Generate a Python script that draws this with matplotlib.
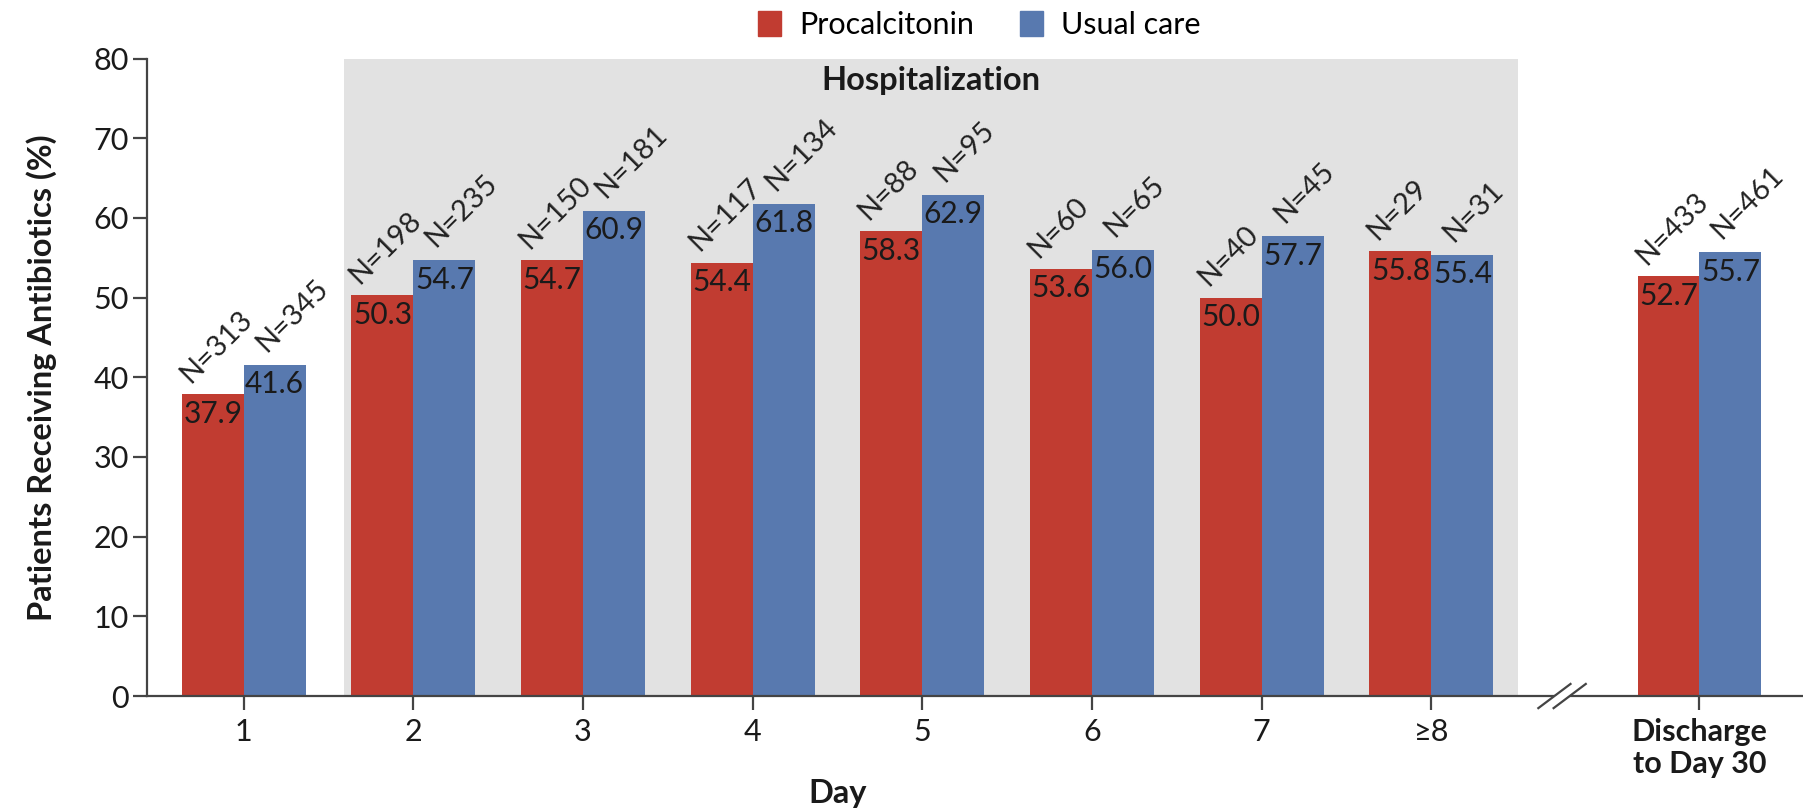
import numpy as np
import matplotlib
matplotlib.use("Agg")
import matplotlib.pyplot as plt
from matplotlib.patches import Patch
import matplotlib.transforms as mtransforms

plt.rcParams['font.family'] = ['Lato', 'DejaVu Sans']

categories = ['1', '2', '3', '4', '5', '6', '7', '≥8', 'Discharge\nto Day 30']
procalcitonin = [37.9, 50.3, 54.7, 54.4, 58.3, 53.6, 50.0, 55.8, 52.7]
usual_care = [41.6, 54.7, 60.9, 61.8, 62.9, 56.0, 57.7, 55.4, 55.7]
n_proc = [313, 198, 150, 117, 88, 60, 40, 29, 433]
n_usual = [345, 235, 181, 134, 95, 65, 45, 31, 461]

red = '#C13C31'
blue = '#5879AF'
dark = '#444444'
fs = 22
fs_bold = 23.5

x = np.append(np.arange(1, 9), 9.58)
w = 0.365

fig = plt.figure(figsize=(18.03, 8.10), dpi=100)
ax = fig.add_axes([0.0815, 0.1407, 0.9185, 0.787])

ax.axvspan(1.59, 8.51, color='#E2E2E2', zorder=0, lw=0)
ax.text(5.05, 77.2, 'Hospitalization', ha='center', va='center',
        fontsize=fs_bold, fontweight='bold', color='#1a1a1a')

b1 = ax.bar(x - w / 2, procalcitonin, w, color=red, zorder=2)
b2 = ax.bar(x + w / 2, usual_care, w, color=blue, zorder=2)

for bars, vals, ns, off in [(b1, procalcitonin, n_proc, (6, 7.5)),
                            (b2, usual_care, n_usual, (16, 8.5))]:
    for b, v, n in zip(bars, vals, ns):
        ax.annotate(f'{v:.1f}', (b.get_x() + b.get_width() / 2, v),
                    xytext=(0, -4), textcoords='offset points',
                    ha='center', va='top', fontsize=21.5, color='#1a1a1a', zorder=3)
        ax.annotate(f'N={n}', (b.get_x(), v),
                    xytext=off, textcoords='offset points',
                    ha='left', va='baseline', rotation=45, rotation_mode='anchor',
                    fontsize=21, color='#222222', zorder=3)

ax.set_xlim(0.43, 10.19)
ax.set_ylim(0, 80)
ax.set_yticks(range(0, 81, 10))
ax.set_xticks(x)
ax.set_xticklabels(categories, linespacing=1.15)
for lbl in ax.get_xticklabels()[-1:]:
    lbl.set_fontweight('bold')
    lbl.set_fontsize(fs_bold)

for s in ['top', 'right']:
    ax.spines[s].set_visible(False)
for s in ['left', 'bottom']:
    ax.spines[s].set_color(dark)
    ax.spines[s].set_linewidth(1.6)
ax.tick_params(axis='both', colors=dark, labelcolor='#1a1a1a', width=1.6,
               length=10, labelsize=fs)
ax.tick_params(axis='y', pad=3)
ax.tick_params(axis='x', pad=6)

ax.set_ylabel('Patients Receiving Antibiotics (%)', fontsize=fs_bold,
              fontweight='bold', color='#1a1a1a', labelpad=26)
trans = mtransforms.blended_transform_factory(ax.transData, ax.transAxes)
ax.text(4.5, -0.13, 'Day', transform=trans, ha='center', va='top',
        fontsize=fs_bold, fontweight='bold', color='#1a1a1a')

# axis break marks
bx = 8.77
for dx, c, lw in [(0, 'white', 6), (-0.045, dark, 1.6), (0.045, dark, 1.6)]:
    ax.plot([bx + dx - 0.1, bx + dx + 0.1], [-1.6, 1.6], color=c, lw=lw,
            clip_on=False, zorder=5, solid_capstyle='butt')

handles = [Patch(color=red, label='Procalcitonin'), Patch(color=blue, label='Usual care')]
fig.legend(handles=handles, loc='center', bbox_to_anchor=(0.543, 0.969), ncol=2,
           frameon=False, fontsize=fs, handlelength=0.75, handleheight=0.9,
           columnspacing=1.5, handletextpad=0.6)

fig.savefig('out.png', dpi=100)
